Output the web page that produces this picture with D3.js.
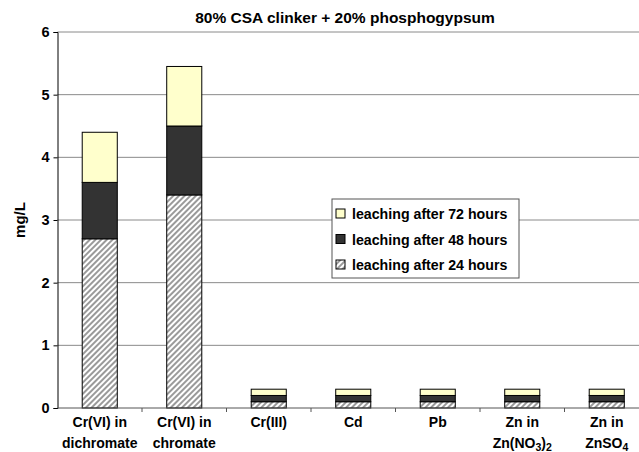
<!DOCTYPE html>
<html>
<head>
<meta charset="utf-8">
<script src="https://cdn.jsdelivr.net/npm/d3@7"></script>
<style>
  html, body { margin: 0; padding: 0; background: #fff; }
  svg { display: block; font-family: "Liberation Sans", Arial, sans-serif; }
</style>
</head>
<body>
<svg id="chart" width="639" height="452"></svg>
<script>
// Leaching results, mg/L, stacked by duration
const categories = [
  ["Cr(VI) in", "dichromate"],
  ["Cr(VI) in", "chromate"],
  ["Cr(III)"],
  ["Cd"],
  ["Pb"],
  ["Zn in", "Zn(NO3)2"],
  ["Zn in", "ZnSO4"]
];
const leach24 = [2.7, 3.4, 0.1, 0.1, 0.1, 0.1, 0.1];
const leach48 = [0.9, 1.1, 0.1, 0.1, 0.1, 0.1, 0.1];
const leach72 = [0.8, 0.95, 0.1, 0.1, 0.1, 0.1, 0.1];
const yTicks = [0, 1, 2, 3, 4, 5, 6];
const seriesNames = ["leaching after 72 hours", "leaching after 48 hours", "leaching after 24 hours"];

const svg = d3.select("#chart");
const W = 639, H = 452;
const m = { left: 57.5, top: 32, bottom: 44 };
const plotRight = m.left + 84.5 * 7;

const defs = svg.append("defs");
const pat = defs.append("pattern")
  .attr("id", "hatch").attr("patternUnits", "userSpaceOnUse")
  .attr("width", 4).attr("height", 4)
  .attr("patternTransform", "rotate(45)");
pat.append("rect").attr("width", 4).attr("height", 4).attr("fill", "#fff");
pat.append("rect").attr("x", 0).attr("width", 2).attr("height", 4).attr("fill", "#9a9a9a");

const x = d3.scaleBand().domain(d3.range(categories.length))
  .range([m.left, plotRight]).paddingInner(0.585).paddingOuter(0.2925);
const y = d3.scaleLinear().domain([0, 6]).range([H - m.bottom, m.top]);

// gridlines
svg.append("g").selectAll("line").data(yTicks.filter(d => d > 0)).join("line")
  .attr("x1", m.left).attr("x2", W)
  .attr("y1", d => y(d)).attr("y2", d => y(d))
  .attr("stroke", "#8a8a8a").attr("stroke-width", 1);

// stacked bars
const rows = categories.map((c, i) => ({ i, h24: leach24[i], h48: leach48[i], h72: leach72[i] }));
const stack = d3.stack().keys(["h24", "h48", "h72"])(rows);
const fills = { h24: "url(#hatch)", h48: "#333333", h72: "#ffffcc" };
svg.append("g").selectAll("g").data(stack).join("g")
  .attr("fill", d => fills[d.key])
  .selectAll("rect").data(d => d).join("rect")
  .attr("x", d => x(d.data.i))
  .attr("width", x.bandwidth())
  .attr("y", d => y(d[1]))
  .attr("height", d => y(d[0]) - y(d[1]))
  .attr("stroke", "#000").attr("stroke-width", 1);

// y axis
const yAxis = d3.axisLeft(y).tickValues(yTicks).tickSize(4).tickFormat(d3.format("d"));
const gy = svg.append("g").attr("transform", `translate(${m.left},0)`).call(yAxis);
gy.select(".domain").attr("stroke", "#000");
gy.selectAll(".tick line").attr("stroke", "#000");
gy.selectAll("text").attr("font-size", 14.5).attr("font-weight", "bold")
  .attr("font-family", "Liberation Sans, Arial, sans-serif").attr("fill", "#000").attr("dx", -1);

// x axis baseline and category separators
svg.append("line").attr("x1", m.left).attr("x2", W)
  .attr("y1", y(0)).attr("y2", y(0)).attr("stroke", "#555");
svg.append("g").selectAll("line").data(d3.range(1, categories.length)).join("line")
  .attr("x1", i => x(i) - x.step() * x.paddingInner() / 2)
  .attr("x2", i => x(i) - x.step() * x.paddingInner() / 2)
  .attr("y1", y(0)).attr("y2", y(0) + 4).attr("stroke", "#555");

// category labels
const lab = svg.append("g").attr("font-size", 14).attr("font-weight", "bold").attr("fill", "#000")
  .attr("text-anchor", "middle");
categories.forEach((c, i) => {
  const cx = x(i) + x.bandwidth() / 2;
  c.forEach((line, k) => {
    const t = lab.append("text").attr("x", cx).attr("y", y(0) + 19 + k * 21);
    if (line === "Zn(NO3)2") {
      t.append("tspan").text("Zn(NO");
      t.append("tspan").attr("dy", 3).attr("font-size", 10.5).text("3");
      t.append("tspan").attr("dy", -3).text(")");
      t.append("tspan").attr("dy", 3).attr("font-size", 10.5).text("2");
    } else if (line === "ZnSO4") {
      t.append("tspan").text("ZnSO");
      t.append("tspan").attr("dy", 3).attr("font-size", 10.5).text("4");
    } else {
      t.text(line);
    }
  });
});

// title
svg.append("text").attr("x", 345).attr("y", 23).attr("text-anchor", "middle")
  .attr("font-size", 15.5).attr("font-weight", "bold").text("80% CSA clinker + 20% phosphogypsum");

// y label
svg.append("text").attr("transform", `translate(25,${(y(0) + y(6)) / 2}) rotate(-90)`)
  .attr("text-anchor", "middle").attr("font-size", 15).attr("font-weight", "bold").text("mg/L");

// legend
const lg = svg.append("g").attr("transform", "translate(332,199)");
lg.append("rect").attr("width", 187).attr("height", 79).attr("fill", "#fff")
  .attr("stroke", "#555").attr("stroke-width", 1);
const legFills = ["#ffffcc", "#333333", "url(#hatch)"];
seriesNames.forEach((s, k) => {
  const ry = 10 + k * 25.5;
  lg.append("rect").attr("x", 4).attr("y", ry).attr("width", 9).attr("height", 9)
    .attr("fill", legFills[k]).attr("stroke", "#000");
  lg.append("text").attr("x", 20).attr("y", ry + 10).attr("font-size", 14.2).attr("font-weight", "bold")
    .text(s);
});
</script>
</body>
</html>
